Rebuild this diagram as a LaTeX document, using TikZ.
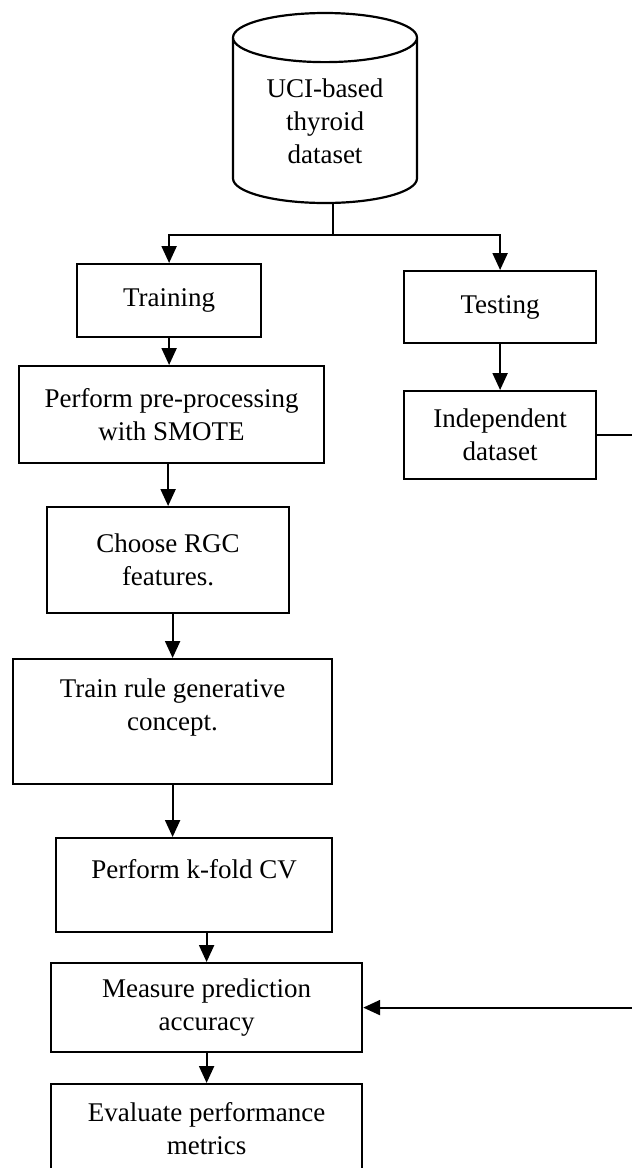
\documentclass[tikz,border=0pt]{standalone}
\usepackage{fontspec}
\setmainfont{Liberation Serif}
\usetikzlibrary{shapes.geometric, arrows.meta}

\tikzset{
  block/.style={draw, rectangle, anchor=north west, align=center, inner sep=0pt},
  store/.style={draw, cylinder, shape border rotate=90, aspect=0.42, align=center, inner sep=0pt}
}

\begin{document}
\begin{tikzpicture}[x=1pt, y=-1pt, line width=2.2pt, font=\fontsize{27}{33}\selectfont,
  >={Triangle[length=17pt,width=15pt]}]
  \useasboundingbox (0,0) rectangle (632,1168);

  \node[store, minimum width=184pt, minimum height=190pt, anchor=shape center] (db) at (325,108) {UCI-based\\thyroid\\dataset};

  \node[block, minimum width=184pt, minimum height=73pt] (training) at (76,263) {Training};
  \node[block, minimum width=192pt, minimum height=72pt] (testing) at (403,270) {Testing};
  \node[block, minimum width=305pt, minimum height=97pt] (smote) at (18,365) {Perform pre-processing\\with SMOTE};
  \node[block, minimum width=192pt, minimum height=88pt] (indep) at (403,390) {Independent\\dataset};
  \node[block, minimum width=242pt, minimum height=106pt] (rgc) at (46,506) {Choose RGC\\features.};
  \node[block, minimum width=319pt, minimum height=125pt] (rgcmodel) at (12,658) {Train rule generative\\concept.\\\mbox{}};
  \node[block, minimum width=276pt, minimum height=94pt] (kfold) at (55,837) {Perform k-fold CV\\\mbox{}};
  \node[block, minimum width=311pt, minimum height=89pt] (measure) at (50,962) {Measure prediction\\accuracy};
  \node[block, minimum width=311pt, minimum height=89pt] (metrics) at (50,1083) {Evaluate performance\\metrics};

  \coordinate (split) at (333,235);
  \coordinate (edge) at (645,0);

  \draw (split |- db.south) -- (split);
  \draw[->] (split) -| (training.north);
  \draw[->] (split) -| (testing.north);
  \draw[->] (training.south) -- (training.south |- smote.north);
  \draw[->] (testing.south) -- (indep.north);
  \draw[->] (rgc.north |- smote.south) -- (rgc.north);
  \draw[->] (rgcmodel.north |- rgc.south) -- (rgcmodel.north);
  \draw[->] (rgcmodel.south) -- (rgcmodel.south |- kfold.north);
  \draw[->] (measure.north |- kfold.south) -- (measure.north);
  \draw[->] (measure.south) -- (metrics.north);
  \draw[->] (indep.east) -- (indep.east -| edge) |- (measure.east);
\end{tikzpicture}
\end{document}
